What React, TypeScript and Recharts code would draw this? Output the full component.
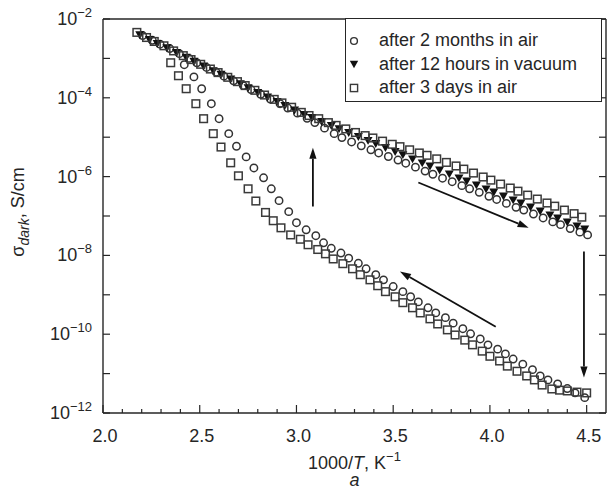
import { Legend, ReferenceLine, Scatter, ScatterChart, XAxis, YAxis } from "recharts";

const FONT = '"Liberation Sans", Arial, Helvetica, sans-serif';
const INK = "#262626";

// axis ticks
const xTicks = [2.0, 2.1, 2.2, 2.3, 2.4, 2.5, 2.6, 2.7, 2.8, 2.9, 3.0, 3.1, 3.2, 3.3, 3.4, 3.5, 3.6, 3.7, 3.8, 3.9, 4.0, 4.1, 4.2, 4.3, 4.4, 4.5];
const xMajor = [2.0, 2.5, 3.0, 3.5, 4.0, 4.5];
const yTicks = [-12, -11, -10, -9, -8, -7, -6, -5, -4, -3, -2];
const yMajor = [-12, -10, -8, -6, -4, -2];

const seriesNames = ["after 2 months in air", "after 12 hours in vacuum", "after 3 days in air"];

// upper branch (log10 sigma), each series on its own temperature grid
const upperCircleX = [2.205, 2.255, 2.295, 2.345, 2.395, 2.445, 2.485, 2.535, 2.585, 2.625, 2.675, 2.725, 2.765, 2.815, 2.865, 2.915, 2.955, 3.005, 3.055, 3.095, 3.145, 3.195, 3.235, 3.285, 3.335, 3.385, 3.425, 3.475, 3.525, 3.565, 3.615, 3.665, 3.705, 3.755, 3.805, 3.855, 3.895, 3.945, 3.995, 4.035, 4.085, 4.135, 4.175, 4.225, 4.275, 4.325, 4.365, 4.415, 4.465, 4.505];
const upperCircle = [-2.42, -2.54, -2.64, -2.75, -2.88, -3.0, -3.11, -3.23, -3.35, -3.45, -3.57, -3.69, -3.79, -3.91, -4.03, -4.15, -4.26, -4.39, -4.52, -4.63, -4.77, -4.91, -5.01, -5.12, -5.22, -5.32, -5.4, -5.49, -5.58, -5.66, -5.76, -5.86, -5.94, -6.04, -6.13, -6.23, -6.31, -6.4, -6.5, -6.58, -6.68, -6.78, -6.85, -6.95, -7.05, -7.15, -7.22, -7.32, -7.41, -7.48];
const upperTriangleX = [2.19, 2.24, 2.28, 2.33, 2.38, 2.43, 2.47, 2.52, 2.57, 2.61, 2.66, 2.71, 2.75, 2.8, 2.85, 2.9, 2.94, 2.99, 3.04, 3.08, 3.13, 3.18, 3.22, 3.27, 3.32, 3.37, 3.41, 3.46, 3.51, 3.55, 3.6, 3.65, 3.69, 3.74, 3.79, 3.84, 3.88, 3.93, 3.98, 4.02, 4.07, 4.12, 4.16, 4.21, 4.26, 4.31, 4.35, 4.4, 4.45, 4.49];
const upperTriangle = [-2.4, -2.52, -2.62, -2.73, -2.85, -2.97, -3.07, -3.19, -3.31, -3.4, -3.52, -3.64, -3.74, -3.86, -3.98, -4.09, -4.19, -4.31, -4.42, -4.5, -4.6, -4.7, -4.78, -4.88, -4.98, -5.08, -5.16, -5.26, -5.36, -5.44, -5.55, -5.65, -5.73, -5.83, -5.93, -6.03, -6.11, -6.21, -6.31, -6.39, -6.49, -6.59, -6.67, -6.77, -6.87, -6.97, -7.05, -7.15, -7.25, -7.33];
const upperSquareX = [2.175, 2.225, 2.265, 2.315, 2.365, 2.415, 2.455, 2.505, 2.555, 2.595, 2.645, 2.695, 2.735, 2.785, 2.835, 2.885, 2.925, 2.975, 3.025, 3.065, 3.115, 3.165, 3.205, 3.255, 3.305, 3.355, 3.395, 3.445, 3.495, 3.535, 3.585, 3.635, 3.675, 3.725, 3.775, 3.825, 3.865, 3.915, 3.965, 4.005, 4.055, 4.105, 4.145, 4.195, 4.245, 4.295, 4.335, 4.385, 4.435, 4.475];
const upperSquare = [-2.34, -2.47, -2.57, -2.68, -2.81, -2.93, -3.03, -3.15, -3.27, -3.36, -3.48, -3.59, -3.69, -3.81, -3.93, -4.04, -4.13, -4.24, -4.37, -4.45, -4.53, -4.63, -4.7, -4.79, -4.88, -4.96, -5.02, -5.1, -5.18, -5.24, -5.32, -5.4, -5.46, -5.55, -5.64, -5.73, -5.81, -5.91, -6.01, -6.09, -6.19, -6.29, -6.37, -6.47, -6.57, -6.67, -6.75, -6.85, -6.94, -7.03];

// lower branch
const lowerCircleX = [2.42, 2.47, 2.51, 2.56, 2.6, 2.65, 2.69, 2.74, 2.78, 2.83, 2.87, 2.91, 2.96, 3.0, 3.05, 3.1, 3.14, 3.18, 3.23, 3.27, 3.32, 3.36, 3.41, 3.45, 3.5, 3.55, 3.59, 3.63, 3.68, 3.72, 3.77, 3.81, 3.86, 3.9, 3.95, 3.99, 4.04, 4.08, 4.12, 4.17, 4.22, 4.26, 4.3, 4.35, 4.4, 4.44, 4.49];
const lowerCircleY = [-3.16, -3.47, -3.77, -4.15, -4.53, -4.91, -5.23, -5.5, -5.78, -6.03, -6.31, -6.61, -6.89, -7.17, -7.35, -7.5, -7.68, -7.82, -7.94, -8.07, -8.2, -8.34, -8.49, -8.62, -8.79, -8.92, -9.05, -9.18, -9.33, -9.46, -9.58, -9.72, -9.86, -9.99, -10.12, -10.27, -10.38, -10.5, -10.63, -10.76, -10.9, -11.06, -11.16, -11.26, -11.38, -11.49, -11.61];
const lowerSquareX = [2.35, 2.39, 2.43, 2.48, 2.52, 2.57, 2.61, 2.66, 2.7, 2.75, 2.79, 2.84, 2.88, 2.92, 2.97, 3.02, 3.06, 3.11, 3.15, 3.19, 3.24, 3.29, 3.33, 3.38, 3.42, 3.46, 3.51, 3.55, 3.6, 3.64, 3.69, 3.73, 3.78, 3.82, 3.87, 3.91, 3.96, 4.0, 4.05, 4.09, 4.14, 4.19, 4.23, 4.27, 4.32, 4.36, 4.4, 4.45, 4.5];
const lowerSquareY = [-3.11, -3.44, -3.77, -4.15, -4.53, -4.91, -5.25, -5.65, -5.98, -6.31, -6.62, -6.91, -7.12, -7.3, -7.48, -7.59, -7.73, -7.85, -7.96, -8.09, -8.21, -8.34, -8.49, -8.62, -8.77, -8.92, -9.05, -9.2, -9.33, -9.46, -9.61, -9.74, -9.89, -10.02, -10.15, -10.27, -10.43, -10.56, -10.68, -10.81, -10.94, -11.06, -11.16, -11.29, -11.39, -11.42, -11.44, -11.47, -11.49];

// arrows [x1, y1, x2, y2] in data units, head at the second point
const arrows = [
  [3.085, -6.76, 3.085, -5.27],
  [3.63, -6.15, 4.2, -7.3],
  [4.486, -7.9, 4.486, -11.1],
  [4.03, -9.81, 3.535, -8.41],
];

const pts = (xs: number[], ys: number[]) => xs.map((x, i) => ({ x, y: ys[i] }));

const circleData = [...pts(upperCircleX, upperCircle), ...pts(lowerCircleX, lowerCircleY)];
const triangleData = pts(upperTriangleX, upperTriangle);
const squareData = [...pts(upperSquareX, upperSquare), ...pts(lowerSquareX, lowerSquareY)];

const has = (list: number[], v: number) => list.some((m) => Math.abs(m - v) < 1e-6);

const CircleMark = ({ cx, cy }: any) => (
  <circle cx={cx} cy={cy} r={3.7} fill="none" stroke="#333" strokeWidth={1.5} />
);
const SquareMark = ({ cx, cy }: any) => (
  <rect x={cx - 3.8} y={cy - 3.8} width={7.6} height={7.6} fill="none" stroke="#3a3a3a" strokeWidth={1.5} />
);
const TriangleMark = ({ cx, cy }: any) => (
  <polygon points={`${cx - 4.5},${cy - 3.4} ${cx + 4.5},${cy - 3.4} ${cx},${cy + 4.5}`} fill="#111" />
);

function BottomTick({ x, y, payload }: any) {
  const major = has(xMajor, payload.value);
  return (
    <g>
      <line x1={x} y1={y} x2={x} y2={y - (major ? 8 : 4)} stroke={INK} strokeWidth={1.2} />
      {major && (
        <text x={x + 2} y={y + 29} textAnchor="middle" fontSize={18} fill={INK} fontFamily={FONT}>
          {payload.value.toFixed(1)}
        </text>
      )}
    </g>
  );
}

function TopTick({ x, y, payload }: any) {
  const major = has(xMajor, payload.value);
  return <line x1={x} y1={y} x2={x} y2={y + (major ? 8 : 4)} stroke={INK} strokeWidth={1.2} />;
}

function LeftTick({ x, y, payload }: any) {
  const major = has(yMajor, payload.value);
  return (
    <g>
      <line x1={x} y1={y} x2={x + 7} y2={y} stroke={INK} strokeWidth={1.2} />
      {major && (
        <text x={x - 11} y={y + 6} textAnchor="end" fontSize={18} fill={INK} fontFamily={FONT}>
          10
          <tspan dy={-8} fontSize={13}>
            {"\u2212" + Math.abs(payload.value)}
          </tspan>
        </text>
      )}
    </g>
  );
}

function RightTick({ x, y }: any) {
  return <line x1={x} y1={y} x2={x - 7} y2={y} stroke={INK} strokeWidth={1.2} />;
}

function XTitle({ viewBox }: any) {
  const cx = viewBox.x + viewBox.width / 2;
  return (
    <g fontFamily={FONT} fill={INK}>
      <text x={cx} y={viewBox.y + 56} textAnchor="middle" fontSize={18}>
        1000/<tspan fontStyle="italic">T</tspan>, K
        <tspan dy={-8} fontSize={13}>
          {"\u22121"}
        </tspan>
      </text>
      <text x={cx} y={viewBox.y + 73} textAnchor="middle" fontSize={18} fontStyle="italic">
        a
      </text>
    </g>
  );
}

function YTitle({ viewBox }: any) {
  const cx = viewBox.x + 14;
  const cy = viewBox.y + viewBox.height / 2 - 4;
  return (
    <text
      x={cx}
      y={cy}
      transform={`rotate(-90 ${cx} ${cy})`}
      textAnchor="middle"
      fontSize={18}
      fill={INK}
      fontFamily={FONT}
    >
      {"\u03c3"}
      <tspan dy={5} fontSize={14} fontStyle="italic">
        dark
      </tspan>
      <tspan dy={-5}>, S/cm</tspan>
    </text>
  );
}

function Arrow({ x1, y1, x2, y2 }: any) {
  const a = Math.atan2(y2 - y1, x2 - x1);
  const L = 11;
  const W = 3.6;
  const bx = x2 - L * Math.cos(a);
  const by = y2 - L * Math.sin(a);
  const px = -Math.sin(a) * W;
  const py = Math.cos(a) * W;
  return (
    <g>
      <line x1={x1} y1={y1} x2={bx} y2={by} stroke="#111" strokeWidth={1.8} />
      <polygon points={`${x2},${y2} ${bx + px},${by + py} ${bx - px},${by - py}`} fill="#111" />
    </g>
  );
}

function LegendBox() {
  const marks = [
    <circle key="c" cx={8} cy={10} r={3.4} fill="none" stroke="#333" strokeWidth={1.4} />,
    <polygon key="t" points="3.8,6.8 12.2,6.8 8,14.2" fill="#111" />,
    <rect key="s" x={4.4} y={6.4} width={7.2} height={7.2} fill="none" stroke="#3a3a3a" strokeWidth={1.4} />,
  ];
  return (
    <div
      style={{
        width: 257,
        height: 84,
        boxSizing: "border-box",
        border: `1.4px solid ${INK}`,
        background: "#fff",
        paddingTop: 10,
        fontFamily: FONT,
        fontSize: 18,
        color: INK,
      }}
    >
      {seriesNames.map((name, i) => (
        <div key={name} style={{ display: "flex", alignItems: "center", height: 23.5 }}>
          <svg width={33} height={20} style={{ flex: "none" }}>
            {marks[i]}
          </svg>
          <span style={{ whiteSpace: "nowrap" }}>{name}</span>
        </div>
      ))}
    </div>
  );
}

export default function App() {
  return (
    <div style={{ position: "absolute", left: 0, top: 0, width: 613, height: 497, background: "#fff" }}>
      <ScatterChart width={613} height={497} margin={{ top: 10, right: 0, bottom: 24, left: 10 }}>
        <XAxis
          type="number"
          dataKey="x"
          domain={[2, 4.6]}
          ticks={xTicks}
          interval={0}
          allowDataOverflow
          height={60}
          tickSize={0}
          tickMargin={0}
          tickLine={false}
          axisLine={{ stroke: INK, strokeWidth: 1.4 }}
          tick={<BottomTick />}
          label={<XTitle />}
        />
        <XAxis
          xAxisId="top"
          orientation="top"
          type="number"
          domain={[2, 4.6]}
          ticks={xTicks}
          interval={0}
          allowDataOverflow
          height={9}
          tickSize={0}
          tickMargin={0}
          tickLine={false}
          axisLine={{ stroke: INK, strokeWidth: 1.4 }}
          tick={<TopTick />}
        />
        <YAxis
          type="number"
          dataKey="y"
          domain={[-12, -2]}
          ticks={yTicks}
          interval={0}
          allowDataOverflow
          width={93}
          tickSize={0}
          tickMargin={0}
          tickLine={false}
          axisLine={{ stroke: INK, strokeWidth: 1.4 }}
          tick={<LeftTick />}
          label={<YTitle />}
        />
        <YAxis
          yAxisId="right"
          orientation="right"
          type="number"
          domain={[-12, -2]}
          ticks={yTicks}
          interval={0}
          allowDataOverflow
          width={7}
          tickSize={0}
          tickMargin={0}
          tickLine={false}
          axisLine={{ stroke: INK, strokeWidth: 1.4 }}
          tick={<RightTick />}
        />
        <Legend
          layout="vertical"
          align="center"
          verticalAlign="middle"
          wrapperStyle={{ left: 345, top: 18, width: 257, height: 84 }}
          content={<LegendBox />}
        />
        <Scatter name={seriesNames[0]} data={circleData} shape={<CircleMark />} isAnimationActive={false} />
        <Scatter name={seriesNames[1]} data={triangleData} shape={<TriangleMark />} isAnimationActive={false} />
        <Scatter name={seriesNames[2]} data={squareData} shape={<SquareMark />} isAnimationActive={false} />
        {arrows.map((a, i) => (
          <ReferenceLine
            key={i}
            segment={[
              { x: a[0], y: a[1] },
              { x: a[2], y: a[3] },
            ]}
            ifOverflow="visible"
            shape={<Arrow />}
          />
        ))}
      </ScatterChart>
    </div>
  );
}
